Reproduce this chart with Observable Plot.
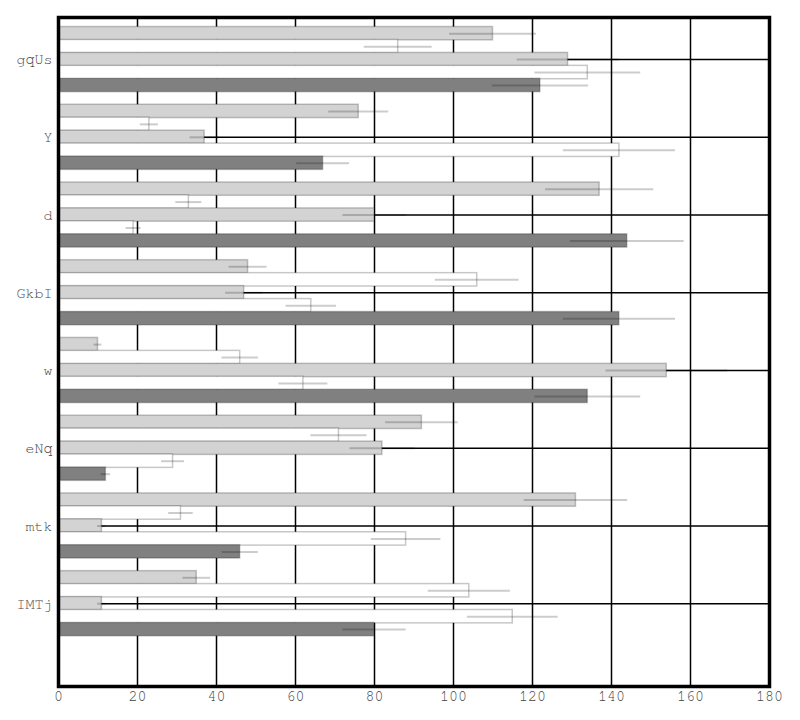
<!DOCTYPE html>
<html>
<head>
<meta charset="utf-8">
<script src="https://cdn.jsdelivr.net/npm/d3@7"></script>
<script src="https://cdn.jsdelivr.net/npm/@observablehq/plot@0.6"></script>
<style>
  html, body { margin: 0; padding: 0; background: #fff; }
  #chart { width: 800px; height: 720px; }
</style>
</head>
<body>
<div id="chart"></div>
<script>
const categories = ["gqUs", "Y", "d", "GkbI", "w", "eNq", "mtk", "IMTj"];
const series = ["s1", "s2", "s3", "s4", "s5"];
const seriesFills = ["#d3d3d3", "#ffffff", "#d3d3d3", "#ffffff", "#808080"];

const s1Values = [110, 76, 137, 48, 10, 92, 131, 35];
const s2Values = [86, 23, 33, 106, 46, 71, 31, 104];
const s3Values = [129, 37, 80, 47, 154, 82, 11, 11];
const s4Values = [134, 142, 19, 64, 62, 29, 88, 115];
const s5Values = [122, 67, 144, 142, 134, 12, 46, 80];

const s1Errors = [11, 7.6, 13.7, 4.8, 1, 9.2, 13.1, 3.5];
const s2Errors = [8.6, 2.3, 3.3, 10.6, 4.6, 7.1, 3.1, 10.4];
const s3Errors = [12.9, 3.7, 8, 4.7, 15.4, 8.2, 1.1, 1.1];
const s4Errors = [13.4, 14.2, 1.9, 6.4, 6.2, 2.9, 8.8, 11.5];
const s5Errors = [12.2, 6.7, 14.4, 14.2, 13.4, 1.2, 4.6, 8];

const xTicks = [0, 20, 40, 60, 80, 100, 120, 140, 160, 180];

const valueSets = [s1Values, s2Values, s3Values, s4Values, s5Values];
const errorSets = [s1Errors, s2Errors, s3Errors, s4Errors, s5Errors];
const data = [];
categories.forEach((cat, i) => {
  series.forEach((s, j) => {
    data.push({cat, series: s, key: cat + "|" + s, value: valueSets[j][i], err: errorSets[j][i]});
  });
});

// band domain: each category's series, then a spacer slot between groups
const yKeys = [];
categories.forEach((cat, i) => {
  series.forEach(s => yKeys.push(cat + "|" + s));
  if (i < categories.length - 1) yKeys.push(cat + "|gap");
});
const midKey = series[Math.floor(series.length / 2)];
const yTickKeys = categories.map(c => c + "|" + midKey);

const chart = Plot.plot({
  width: 800,
  height: 720,
  marginLeft: 58,
  marginRight: 31,
  marginTop: 17,
  marginBottom: 34,
  style: {fontFamily: "FreeMono, 'Nimbus Mono PS', 'Nimbus Mono L', Courier, 'Courier New', 'Liberation Mono', monospace", fontSize: "15px", color: "#444", background: "#fff"},
  x: {domain: [0, 180], label: null},
  y: {domain: yKeys, range: [26.7, 635.6], padding: 0, label: null},
  color: {domain: series, range: seriesFills},
  marks: [
    Plot.gridX({ticks: xTicks, stroke: "black", strokeOpacity: 1, strokeWidth: 1.5}),
    Plot.gridY({ticks: yTickKeys, stroke: "black", strokeOpacity: 1, strokeWidth: 1.5}),
    Plot.barX(data, {x: "value", y: "key", fill: "series", stroke: "black", strokeOpacity: 0.22, strokeWidth: 1.5, insetTop: -0.2, insetBottom: -0.2}),
    Plot.ruleY(data, {x1: d => d.value - d.err, x2: d => d.value + d.err, y: "key", stroke: "black", strokeOpacity: 0.2, strokeWidth: 2}),
    Plot.frame({stroke: "black", strokeWidth: 3.5}),
    Plot.axisX({ticks: xTicks, tickSize: 0, tickPadding: 4, label: null, fill: "#444"}),
    Plot.axisY({ticks: yTickKeys, tickFormat: k => k.split("|")[0], tickSize: 0, tickPadding: 6, label: null, fill: "#444"})
  ]
});
document.getElementById("chart").appendChild(chart);
</script>
</body>
</html>
